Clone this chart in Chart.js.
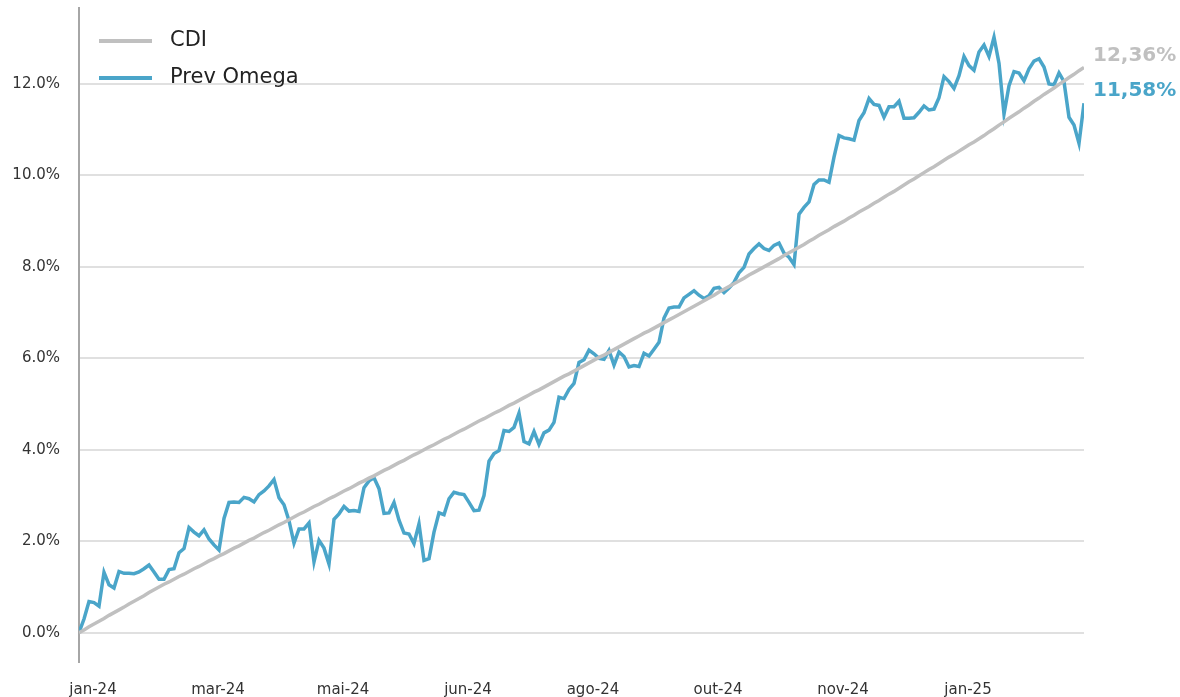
<!DOCTYPE html>
<html>
<head>
<meta charset="utf-8">
<script src="https://cdn.jsdelivr.net/npm/chart.js@4"></script>
<style>
  html, body { margin: 0; padding: 0; background: #fff; }
  #wrap { width: 1180px; height: 697px; position: relative; }
</style>
</head>
<body>
<div id="wrap"><canvas id="chart"></canvas></div>
<script>
// Accumulated return (%), one value per sampled trading day
const cdi = [
  0.00, 0.06, 0.13, 0.19, 0.25, 0.31, 0.38, 0.44, 0.50, 0.56,
  0.63, 0.69, 0.75, 0.81, 0.88, 0.94, 1.00, 1.06, 1.11, 1.17,
  1.23, 1.28, 1.34, 1.40, 1.45, 1.51, 1.57, 1.62, 1.68, 1.73,
  1.79, 1.85, 1.90, 1.96, 2.02, 2.07, 2.13, 2.19, 2.24, 2.30,
  2.36, 2.41, 2.47, 2.53, 2.59, 2.64, 2.70, 2.76, 2.81, 2.87,
  2.93, 2.98, 3.04, 3.10, 3.15, 3.21, 3.27, 3.32, 3.38, 3.43,
  3.49, 3.55, 3.60, 3.66, 3.72, 3.77, 3.83, 3.89, 3.94, 4.00,
  4.06, 4.11, 4.17, 4.23, 4.28, 4.34, 4.40, 4.45, 4.51, 4.57,
  4.63, 4.68, 4.74, 4.80, 4.85, 4.91, 4.97, 5.02, 5.08, 5.14,
  5.20, 5.26, 5.31, 5.37, 5.43, 5.49, 5.55, 5.61, 5.66, 5.72,
  5.78, 5.84, 5.90, 5.96, 6.02, 6.07, 6.13, 6.19, 6.25, 6.31,
  6.37, 6.43, 6.49, 6.55, 6.60, 6.66, 6.72, 6.78, 6.84, 6.90,
  6.96, 7.02, 7.08, 7.14, 7.20, 7.26, 7.32, 7.38, 7.45, 7.51,
  7.57, 7.63, 7.69, 7.75, 7.82, 7.88, 7.94, 8.00, 8.06, 8.12,
  8.18, 8.25, 8.31, 8.37, 8.43, 8.49, 8.56, 8.62, 8.69, 8.75,
  8.81, 8.88, 8.94, 9.00, 9.07, 9.13, 9.20, 9.26, 9.32, 9.39,
  9.45, 9.52, 9.59, 9.65, 9.72, 9.79, 9.86, 9.92, 9.99, 10.06,
  10.13, 10.19, 10.26, 10.33, 10.40, 10.46, 10.53, 10.60, 10.67, 10.73,
  10.80, 10.87, 10.95, 11.02, 11.10, 11.17, 11.25, 11.32, 11.39, 11.47,
  11.54, 11.62, 11.69, 11.77, 11.84, 11.91, 11.99, 12.06, 12.14, 12.21,
  12.29, 12.36
]

const prevOmega = [
  0.00, 0.30, 0.68, 0.66, 0.58, 1.32, 1.05, 0.98, 1.34, 1.30,
  1.30, 1.29, 1.33, 1.40, 1.48, 1.33, 1.17, 1.17, 1.38, 1.40,
  1.75, 1.84, 2.30, 2.20, 2.12, 2.25, 2.05, 1.92, 1.81, 2.50,
  2.85, 2.86, 2.85, 2.96, 2.93, 2.86, 3.02, 3.10, 3.21, 3.35,
  2.95, 2.80, 2.45, 1.96, 2.27, 2.27, 2.40, 1.55, 2.02, 1.85,
  1.50, 2.48, 2.60, 2.76, 2.66, 2.67, 2.65, 3.17, 3.32, 3.39,
  3.15, 2.61, 2.62, 2.85, 2.46, 2.18, 2.16, 1.95, 2.38, 1.58,
  1.62, 2.20, 2.62, 2.58, 2.93, 3.07, 3.04, 3.02, 2.85, 2.67,
  2.68, 3.00, 3.75, 3.92, 3.98, 4.42, 4.40, 4.49, 4.80, 4.18,
  4.13, 4.40, 4.12, 4.37, 4.43, 4.60, 5.15, 5.12, 5.32, 5.45,
  5.91, 5.97, 6.18, 6.10, 6.00, 5.98, 6.17, 5.85, 6.14, 6.04,
  5.81, 5.84, 5.82, 6.11, 6.05, 6.20, 6.35, 6.88, 7.10, 7.12,
  7.12, 7.32, 7.40, 7.48, 7.38, 7.31, 7.37, 7.53, 7.55, 7.44,
  7.54, 7.66, 7.87, 7.99, 8.28, 8.40, 8.50, 8.40, 8.36, 8.47,
  8.52, 8.30, 8.21, 8.05, 9.15, 9.30, 9.42, 9.80, 9.90, 9.90,
  9.85, 10.40, 10.87, 10.82, 10.80, 10.77, 11.20, 11.37, 11.68, 11.55,
  11.53, 11.27, 11.50, 11.50, 11.62, 11.25, 11.25, 11.26, 11.38, 11.52,
  11.43, 11.45, 11.70, 12.16, 12.05, 11.90, 12.18, 12.60, 12.40, 12.30,
  12.70, 12.85, 12.60, 13.02, 12.45, 11.34, 11.96, 12.27, 12.24, 12.07,
  12.33, 12.50, 12.55, 12.37, 12.00, 11.98, 12.24, 12.05, 11.27, 11.10,
  10.70, 11.58
]

// Month labels on the day axis
const tickPos = [2.8, 27.8, 52.8, 77.8, 102.8, 127.8, 152.8, 177.8]
const tickLabels = ["jan-24", "mar-24", "mai-24", "jun-24", "ago-24", "out-24", "nov-24", "jan-25"]
const yTicks = [0, 2, 4, 6, 8, 10, 12]

const CDI_COLOR = "#c0c0c0"
const OMEGA_COLOR = "#4aa5c9"
const FONT = "'DejaVu Sans', Verdana, sans-serif"

const toPoints = (arr) => arr.map((v, i) => ({ x: i, y: v }))

// Legend in the top-left corner of the plot, plus end-of-line values
const overlay = {
  id: "overlay",
  afterDatasetsDraw(chart) {
    const { ctx, chartArea } = chart
    ctx.save()

    chart.data.datasets.forEach((ds, i) => {
      const y = 41 + i * 37
      ctx.strokeStyle = ds.borderColor
      ctx.lineWidth = 4
      ctx.beginPath()
      ctx.moveTo(99, y)
      ctx.lineTo(152, y)
      ctx.stroke()
      ctx.fillStyle = "#222"
      ctx.font = `21px ${FONT}`
      ctx.textBaseline = "middle"
      ctx.textAlign = "left"
      ctx.fillText(ds.label, 170, y)
    })

    chart.data.datasets.forEach((ds, i) => {
      const meta = chart.getDatasetMeta(i)
      const last = meta.data[meta.data.length - 1]
      const val = ds.data[ds.data.length - 1].y
      ctx.fillStyle = ds.borderColor
      ctx.font = `bold 20px ${FONT}`
      ctx.textBaseline = "middle"
      ctx.textAlign = "left"
      ctx.fillText(val.toFixed(2).replace(".", ",") + "%", chartArea.right + 9, last.y - 12)
    })

    ctx.restore()
  },
}

new Chart(document.getElementById("chart"), {
  type: "line",
  data: {
    datasets: [
      {
        label: "CDI",
        data: toPoints(cdi),
        borderColor: CDI_COLOR,
        borderWidth: 3.5,
        pointRadius: 0,
        tension: 0,
      },
      {
        label: "Prev Omega",
        data: toPoints(prevOmega),
        borderColor: OMEGA_COLOR,
        borderWidth: 3.5,
        pointRadius: 0,
        tension: 0,
      },
    ],
  },
  options: {
    responsive: true,
    maintainAspectRatio: false,
    animation: false,
    devicePixelRatio: 1,
    layout: { padding: { top: 8, right: 96, left: 0, bottom: 0 } },
    plugins: { legend: { display: false }, tooltip: { enabled: false } },
    scales: {
      x: {
        type: "linear",
        min: 0,
        max: prevOmega.length - 1,
        afterFit: (s) => { s.height = 35 },
        afterBuildTicks: (s) => { s.ticks = tickPos.map((v) => ({ value: v })) },
        grid: { display: false },
        border: { display: false },
        ticks: {
          autoSkip: false,
          maxRotation: 0,
          padding: 11,
          color: "#333",
          font: { family: FONT, size: 15 },
          callback: (v) => tickLabels[tickPos.indexOf(v)] || "",
        },
      },
      y: {
        min: -0.64,
        max: 13.66,
        // fixed width; drop the label overhang padding so the plot starts near the top
        afterFit: (s) => {
          s.width = 79
          s.paddingTop = 0
          s.paddingBottom = 0
        },
        afterBuildTicks: (s) => { s.ticks = yTicks.map((v) => ({ value: v })) },
        grid: { color: "#e0e0e0", lineWidth: 2, drawTicks: false },
        border: { display: true, color: "#a6a6a6", width: 2 },
        ticks: {
          padding: 19,
          color: "#333",
          font: { family: FONT, size: 15 },
          callback: (v) => v.toFixed(1) + "%",
        },
      },
    },
  },
  plugins: [overlay],
})
</script>
</body>
</html>
